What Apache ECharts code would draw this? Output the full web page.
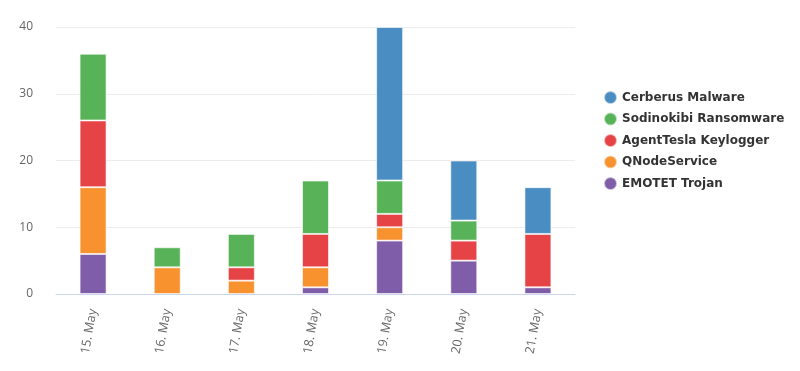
<!DOCTYPE html>
<html><head><meta charset="utf-8">
<script src="https://cdn.jsdelivr.net/npm/echarts@6/dist/echarts.min.js"></script>
<style>html,body{margin:0;padding:0;background:#fff}#c{width:800px;height:371px}</style>
</head><body><div id="c"></div>
<script>
const categories = ['15. May','16. May','17. May','18. May','19. May','20. May','21. May'];
const seriesNames = ['Cerberus Malware','Sodinokibi Ransomware','AgentTesla Keylogger','QNodeService','EMOTET Trojan'];
const cerberus   = [0, 0, 0, 0, 23, 9, 7];
const sodinokibi = [10, 3, 5, 8, 5, 3, 0];
const agentTesla = [10, 0, 2, 5, 2, 3, 8];
const qnode      = [10, 4, 2, 3, 2, 0, 0];
const emotet     = [6, 0, 0, 1, 8, 5, 1];
const yTicks = [0, 10, 20, 30, 40];
const colors = ['#4a8dc2', '#58b258', '#e64346', '#f7922f', '#7f5da8'];

const chart = echarts.init(document.getElementById('c'));
const dataByName = {
  'Cerberus Malware': cerberus,
  'Sodinokibi Ransomware': sodinokibi,
  'AgentTesla Keylogger': agentTesla,
  'QNodeService': qnode,
  'EMOTET Trojan': emotet
};
const stackOrder = ['EMOTET Trojan','QNodeService','AgentTesla Keylogger','Sodinokibi Ransomware','Cerberus Malware'];
const series = stackOrder.map(n => ({
  name: n, type: 'bar', stack: 'a', barWidth: 27,
  data: dataByName[n].map(v => v === 0 ? null : v),
  itemStyle: { color: colors[seriesNames.indexOf(n)], borderColor: 'rgba(255,255,255,0.6)', borderWidth: 1 },
  emphasis: { disabled: true }
}));
chart.setOption({
  animation: false,
  grid: { left: 56, right: 225, top: 27, bottom: 77 },
  legend: {
    orient: 'vertical', left: 598, top: 85, itemGap: 6.5,
    icon: 'circle', itemWidth: 13, itemHeight: 13,
    data: seriesNames,
    textStyle: { fontFamily: 'DejaVu Sans', fontWeight: 'bold', fontSize: 12, color: '#333' }
  },
  xAxis: {
    type: 'category', data: categories,
    axisLine: { lineStyle: { color: '#ccd6eb' } },
    axisTick: { alignWithLabel: true, length: 8, lineStyle: { color: '#ccd6eb' } },
    axisLabel: { rotate: 80, color: '#666', fontSize: 12.5, fontFamily: 'Open Sans', margin: 15 }
  },
  yAxis: {
    type: 'value', min: yTicks[0], max: yTicks[yTicks.length-1], interval: 10,
    axisLine: { show: false }, axisTick: { show: false },
    splitLine: { lineStyle: { color: '#ececec' } },
    axisLabel: { color: '#666', fontSize: 12, fontFamily: 'Open Sans', margin: 23 }
  },
  series
});
</script></body></html>
